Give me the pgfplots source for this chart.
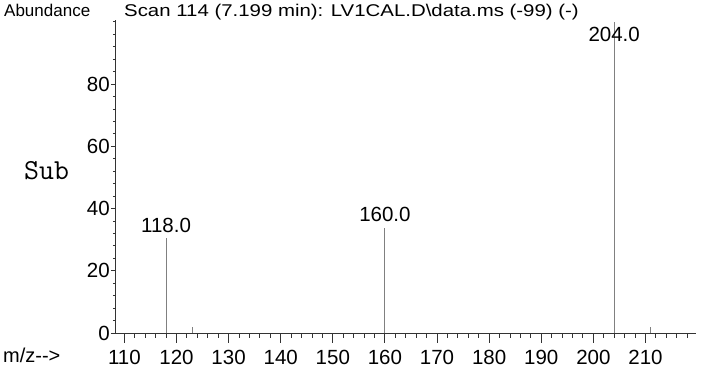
\documentclass[border=0pt]{standalone}
\usepackage{fontspec}
\setmainfont{Liberation Sans}
\usepackage{pgfplots}
\pgfplotsset{compat=1.18}

\definecolor{peakgray}{HTML}{808080}
\definecolor{axisgray}{HTML}{333333}

\begin{document}
\begin{tikzpicture}[x=1pt,y=1pt]
\useasboundingbox (0,0) rectangle (702,371);

% peaks and x axis
\begin{axis}[
	at={(115pt,38pt)}, anchor=south west,
	scale only axis, width=581pt, height=313pt,
	xmin=108.2, xmax=219.7, ymin=0, ymax=100.6,
	axis x line=bottom, axis y line=none,
	axis line style={-, line width=0.9pt, axisgray},
	xtick={110,120,...,210}, minor x tick num=4,
	extra x ticks={108,212,214,216,218}, extra x tick labels={},
	extra x tick style={major tick length=5pt},
	tick align=outside, major tick length=10pt, minor tick length=5pt,
	tick style={line width=0.9pt, axisgray},
	/pgf/number format/assume math mode=true,
	xticklabel style={font=\fontsize{20.5}{22}\selectfont, inner sep=0pt, yshift=-6.5pt},
	clip=false,
]
\addplot[ycomb, peakgray, line width=1.1pt, mark=none]
	coordinates {(118,30.5) (123,2) (160,33.8) (204,100) (211,2)};
\addplot[only marks, mark=none, nodes near coords, point meta=explicit symbolic,
	nodes near coords style={anchor=base, inner sep=0pt, font=\fontsize{20.5}{22}\selectfont}]
	coordinates {(118,32.2)[118.0] (160,35.7)[160.0] (204,93.7)[204.0]};
\end{axis}

% y axis
\begin{axis}[
	at={(115pt,38pt)}, anchor=south west,
	scale only axis, width=581pt, height=313pt,
	xmin=108.2, xmax=219.7, ymin=0, ymax=100.6,
	axis y line=left, axis x line=none,
	axis line style={-, line width=0.9pt, axisgray},
	ytick={0,20,...,80}, minor y tick num=4,
	extra y ticks={84,88,92,96,100}, extra y tick labels={},
	extra y tick style={major tick length=2pt},
	tick align=outside, major tick length=4pt, minor tick length=2pt,
	tick style={line width=0.9pt, axisgray},
	/pgf/number format/assume math mode=true,
	yticklabel style={font=\fontsize{20.5}{22}\selectfont, inner sep=0pt, anchor=east, xshift=-1pt},
]
\addplot[draw=none] coordinates {(110,0)};
\end{axis}

\node[anchor=base west, inner sep=0pt, font=\fontsize{17}{20}\selectfont] at (4,354) {Abundance};
\node[anchor=base, inner sep=0pt, xscale=1.2, font=\fontsize{17}{20}\selectfont] at (351.5,354)
	{Scan 114 (7.199 min): LV1CAL.D\textbackslash data.ms (-99) (-)};
\node[anchor=base west, inner sep=0pt, font=\ttfamily\fontsize{29}{32}\selectfont] at (24,191.5) {Sub};
\node[anchor=base west, inner sep=0pt, font=\fontsize{20}{22}\selectfont] at (3,8) {m/z{-}{-}>};
\end{tikzpicture}
\end{document}
